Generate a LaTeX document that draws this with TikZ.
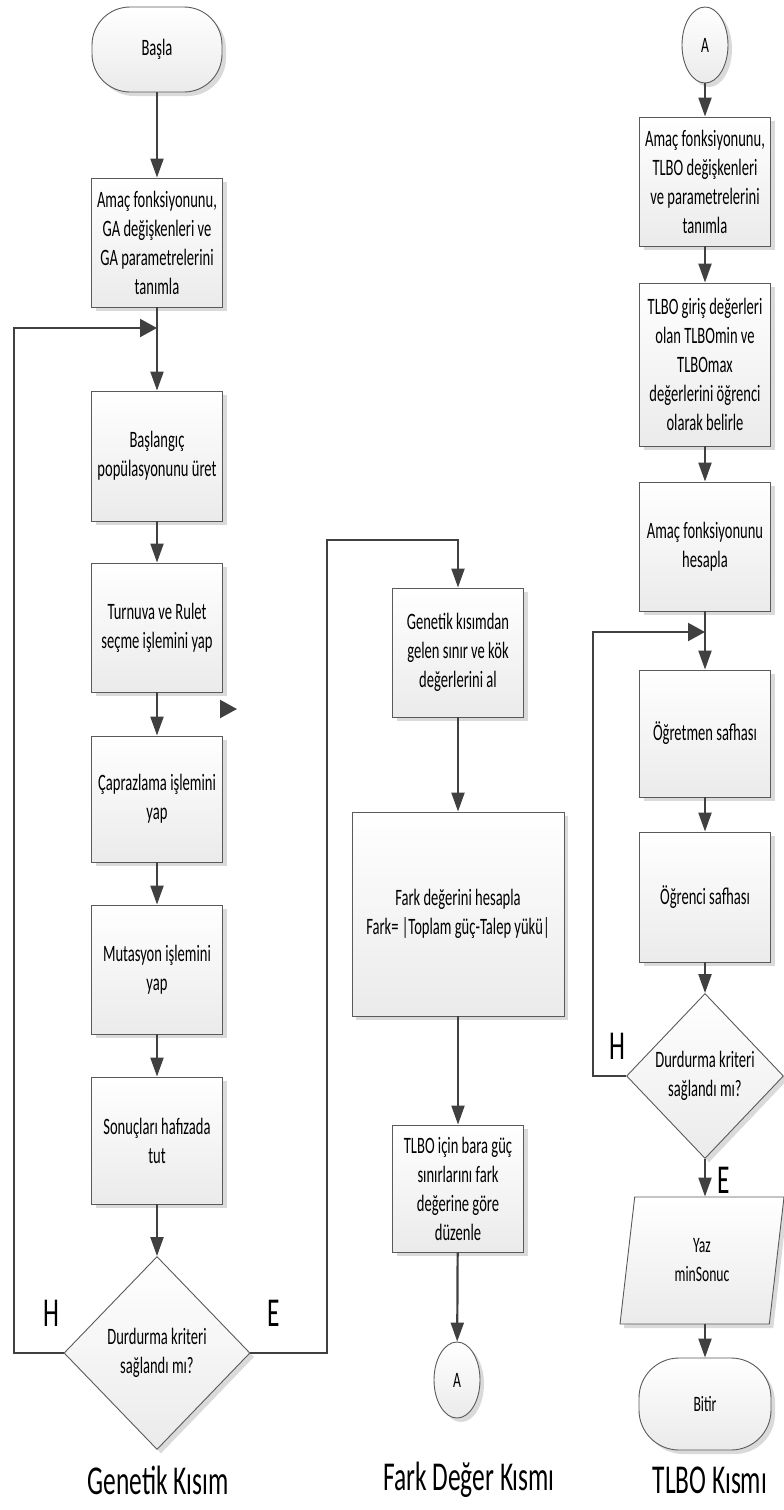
\documentclass[tikz,border=0pt]{standalone}
\usepackage{fontspec}
\setmainfont{Carlito}[FakeStretch=0.62]
\usepackage{tikz}
\usetikzlibrary{shapes.geometric, arrows.meta, shadows}

\definecolor{cizgi}{HTML}{404040}
\definecolor{kenar}{HTML}{5A5A5A}
\definecolor{golge}{HTML}{DADADA}

\begin{document}
\begin{tikzpicture}[x=1pt, y=-1pt,
		sekil/.style={draw=kenar, line width=0.9pt, top color=white, bottom color=gray!16,
			drop shadow={shadow xshift=4pt, shadow yshift=-4pt, fill=golge, opacity=1},
			align=center, inner sep=1pt, font=\fontsize{23.5}{29}\selectfont},
		kutu/.style={sekil, rectangle, minimum width=131pt, minimum height=129pt},
		karar/.style={sekil, diamond, inner sep=0pt},
		baglanti/.style={sekil, ellipse, minimum width=46pt, minimum height=76pt, inner sep=0pt, font=\fontsize{22}{26}\selectfont},
		ok/.style={draw=cizgi, line width=2.2pt, -{Triangle[length=19pt,width=13pt]}},
		yok/.style={draw=cizgi, line width=2.2pt, -{Triangle[length=17pt,width=18pt]}},
		etiket/.style={font=\fontsize{41}{45}\selectfont}]
		\useasboundingbox (0,0) rectangle (784,1510);
		
		% genetik kisim
		\node[sekil, rectangle, rounded corners=38pt, minimum width=130pt, minimum height=85pt] (basla) at (157,49.5) {Başla};
		\node[kutu] (ga1) at (157,242.5) {Amaç fonksiyonunu,\\GA değişkenleri ve\\GA parametrelerini\\tanımla};
		\node[kutu, minimum height=130pt] (ga2) at (157,456) {Başlangıç\\popülasyonunu üret};
		\node[kutu] (ga3) at (157,627.5) {Turnuva ve Rulet\\seçme işlemini yap};
		\node[kutu, minimum height=126pt] (ga4) at (157,799) {Çaprazlama işlemini\\yap};
		\node[kutu] (ga5) at (157,969.5) {Mutasyon işlemini\\yap};
		\node[kutu, minimum height=127pt] (ga6) at (157,1140.5) {Sonuçları hafızada\\tut};
		\node[karar, minimum width=186pt, minimum height=193pt] (gdur) at (157,1353) {Durdurma kriteri\\sağlandı mı?};
		
		% fark deger kismi
		\node[kutu] (fd1) at (458,652.5) {Genetik kısımdan\\gelen sınır ve kök\\değerlerini al};
		\node[kutu, minimum width=212pt, minimum height=204pt] (fd2) at (458,914) {Fark değerini hesapla\\Fark= |Toplam güç-Talep yükü|};
		\node[kutu, minimum height=127pt] (fd3) at (458,1188.5) {TLBO için bara güç\\sınırlarını fark\\değerine göre\\düzenle};
		\node[baglanti] (fdA) at (457,1380) {A};
		
		% tlbo kismi
		\node[baglanti] (tA) at (705,45) {A};
		\node[kutu] (t1) at (705,181.5) {Amaç fonksiyonunu,\\TLBO değişkenleri\\ve parametrelerini\\tanımla};
		\node[kutu, minimum height=163pt] (t2) at (705,364.5) {TLBO giriş değerleri\\olan TLBOmin ve\\TLBOmax\\değerlerini öğrenci\\olarak belirle};
		\node[kutu] (t3) at (705,546.5) {Amaç fonksiyonunu\\hesapla};
		\node[kutu, minimum height=127pt] (t4) at (705,733.5) {Öğretmen safhası};
		\node[kutu, minimum height=130pt] (t5) at (705,897) {Öğrenci safhası};
		\node[karar, minimum width=157pt, minimum height=165pt] (tdur) at (705,1076) {Durdurma kriteri\\sağlandı mı?};
		\node[sekil, trapezium, trapezium left angle=72, trapezium right angle=108, trapezium stretches body,
			minimum width=164pt, minimum height=127pt, font=\fontsize{22}{29}\selectfont] (tyaz) at (702,1260.5) {Yaz\\minSonuc};
		\node[sekil, rectangle, rounded corners=40pt, minimum width=132pt, minimum height=92pt, font=\fontsize{22}{26}\selectfont] (tbit) at (705,1404) {Bitir};
		
		% donus noktalari
		\coordinate (gsol) at (14,328);
		\coordinate (gbirles) at (157,328);
		\coordinate (gsag) at (327,540);
		\coordinate (tsol) at (593,632);
		\coordinate (tbirles) at (705,632);
		\coordinate (kok1) at (220,709);
		\coordinate (kok2) at (237,709);
		
		\draw[ok] (basla) -- (ga1);
		\draw[ok] (ga1) -- (ga2);
		\draw[ok] (ga2) -- (ga3);
		\draw[ok] (ga3) -- (ga4);
		\draw[ok] (ga4) -- (ga5);
		\draw[ok] (ga5) -- (ga6);
		\draw[ok] (ga6) -- (gdur);
		\draw[yok] (gdur.west) -| (gsol) -- (gbirles);
		\draw[ok] (gdur.east) -| (gsag) -| (fd1.north);
		\draw[yok] (kok1) -- (kok2);
		
		\draw[ok] (fd1) -- (fd2);
		\draw[ok] (fd2) -- (fd3);
		\draw[ok] (fd3) -- (fdA);
		
		\draw[ok] (tA) -- (t1);
		\draw[ok] (t1) -- (t2);
		\draw[ok] (t2) -- (t3);
		\draw[ok] (t3) -- (t4);
		\draw[ok] (t4) -- (t5);
		\draw[ok] (t5) -- (tdur);
		\draw[yok] (tdur.west) -| (tsol) -- (tbirles);
		\draw[ok] (tdur.south) -- (tyaz.north -| tdur.south);
		\draw[ok] (tyaz.south -| tbit.north) -- (tbit);
		
		\node[etiket] (gh) at (51,1313) {H};
		\node[etiket] (ge) at (274,1313) {E};
		\node[etiket] (th) at (617,1046) {H};
		\node[etiket] (te) at (724,1180) {E};
		
		\node[etiket] (lgen) at (158,1480) {Genetik Kısım};
		\node[etiket] (lfark) at (469,1480) {Fark Değer Kısmı};
		\node[etiket] (ltlbo) at (710,1480) {TLBO Kısmı};
	\end{tikzpicture}
\end{document}
